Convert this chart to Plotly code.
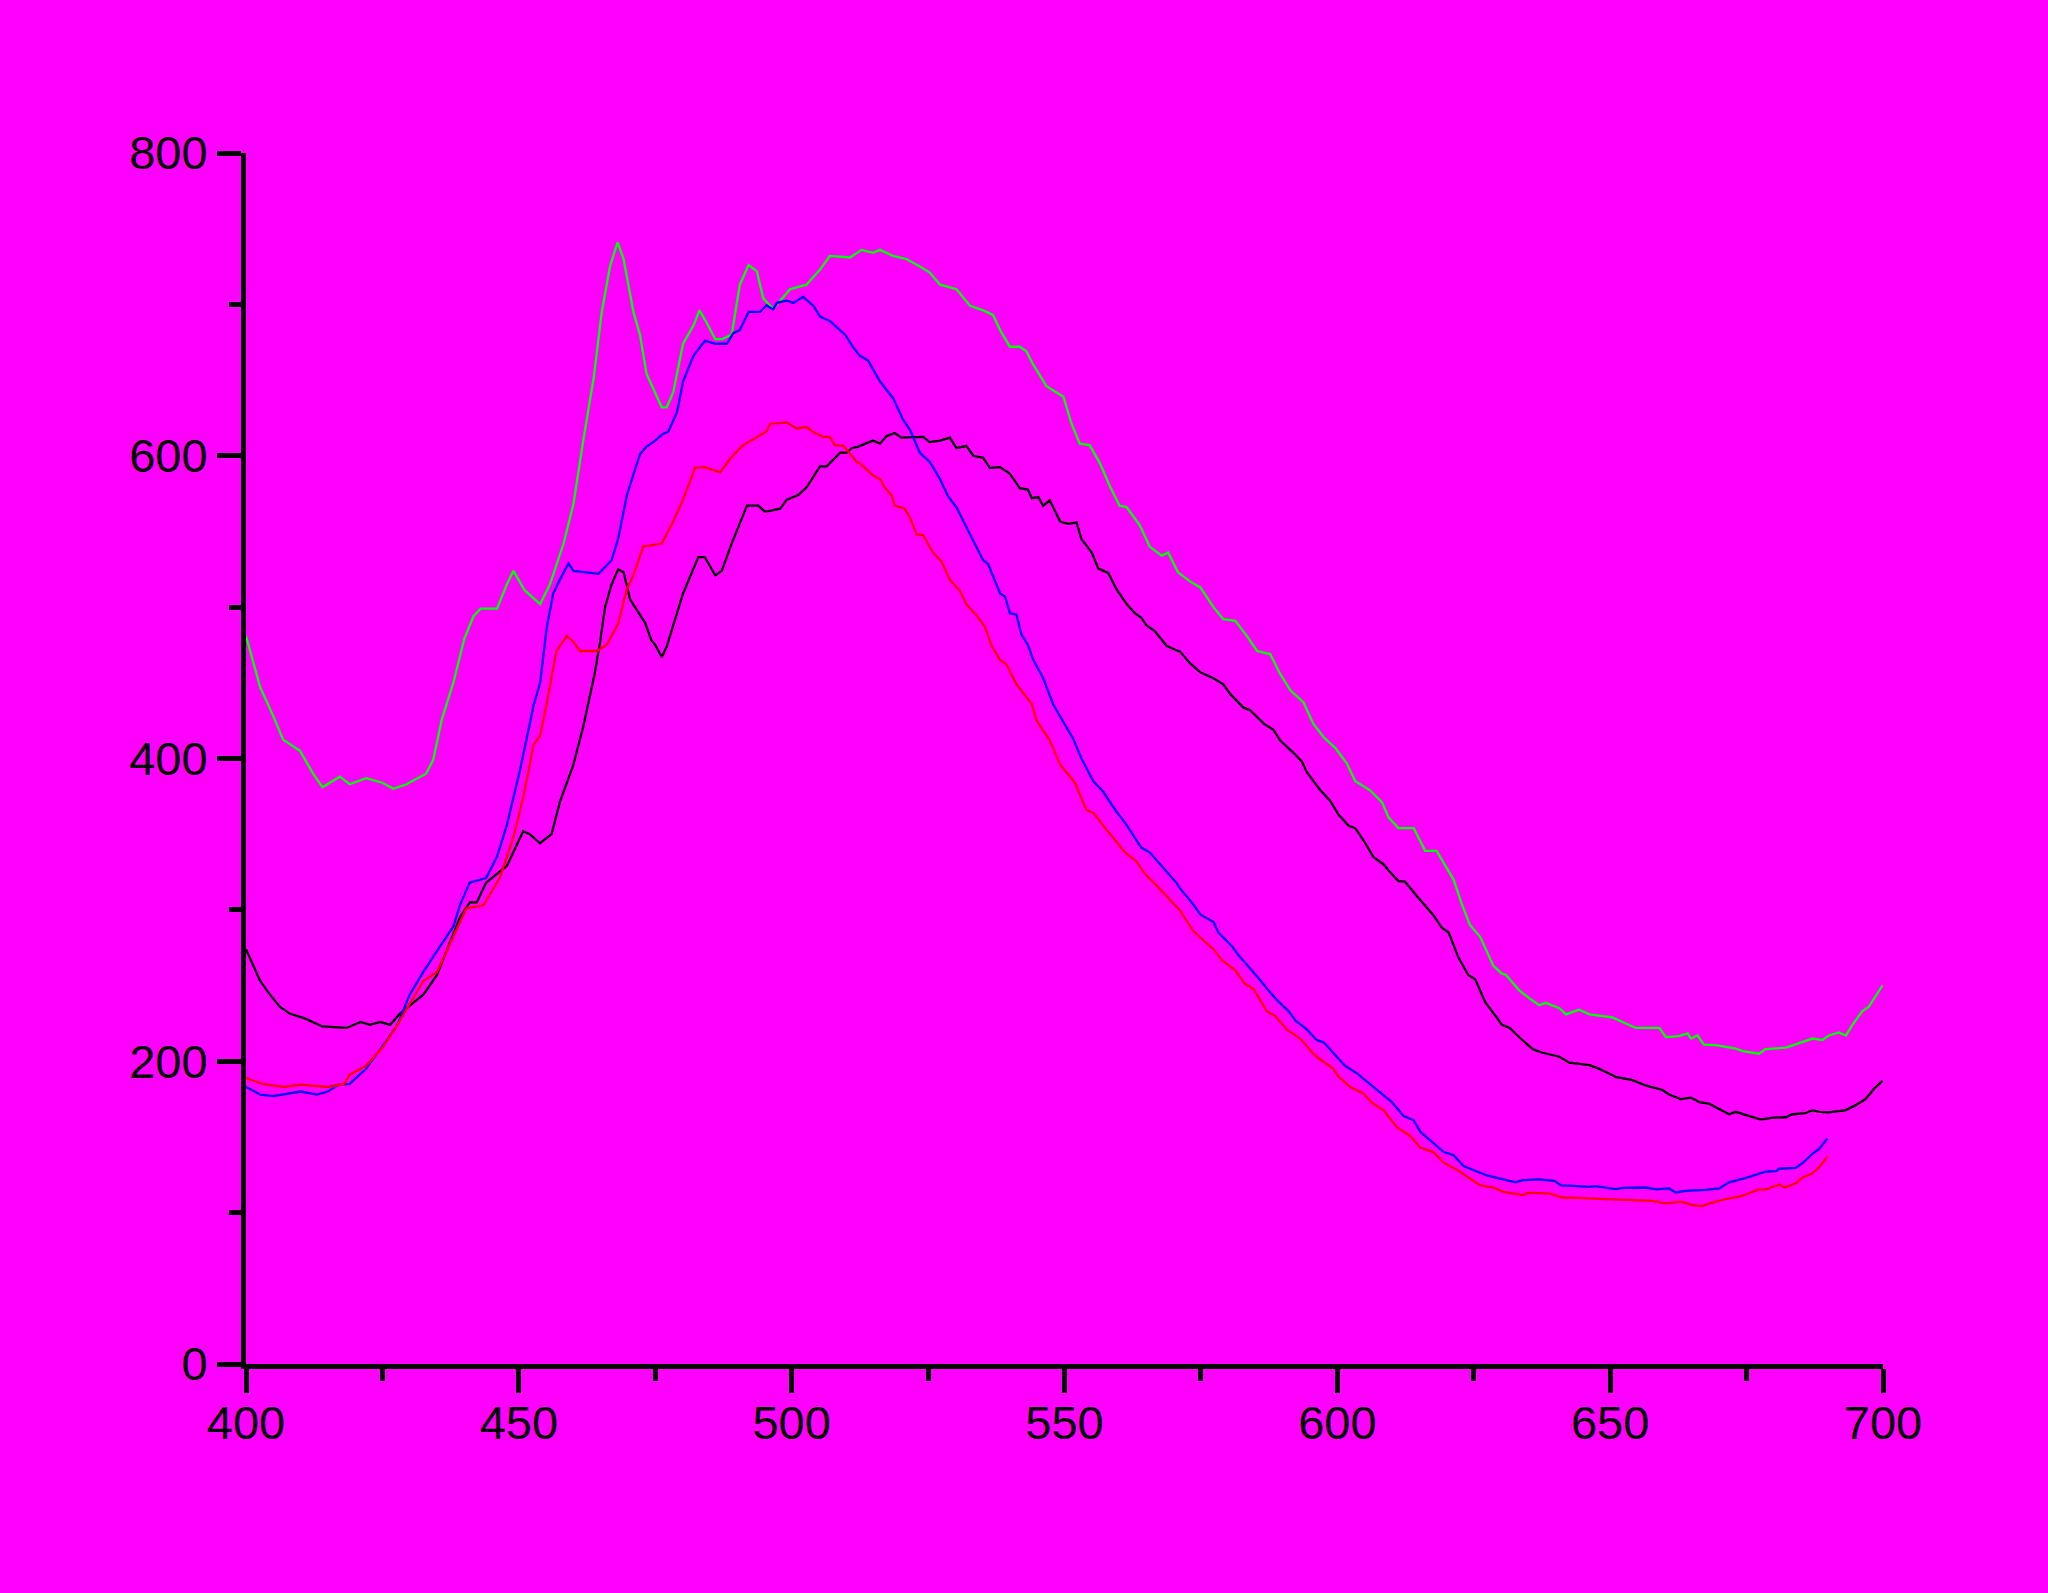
import plotly.graph_objects as go

# ---- Data ----
green_x = [400, 402.6, 405, 406.8, 409.9, 412.3, 414, 417.2, 419, 422, 425, 427, 429.4, 433, 434.3, 435.9, 438, 440,
           441.7, 443, 446, 447.8, 449, 451.1, 453.9, 455.7, 458.2, 460, 461.8, 463.7, 465.2, 466.7, 468.1, 469.2,
           471, 472.2, 473.4, 475, 476.2, 477.1, 478.3, 480.1, 482, 483.1, 484.4, 486, 487.2, 489, 490.5, 492.1,
           493.6, 494.8, 496.6, 499.7, 502.7, 505.2, 507, 510.7, 512.8, 514.9, 516.2, 518.6, 521, 523.5, 525.3,
           527.2, 530.2, 532.7, 535.1, 536.9, 538.2, 540, 541.8, 543, 544.3, 546.7, 549.8, 551.3, 552.8, 554.6,
           556.5, 558.3, 560.1, 561.4, 563.8, 565.6, 567.8, 569, 570.8, 573, 574.9, 577.3, 579.1, 581.3, 583.4,
           585.3, 587.7, 589.5, 591.4, 593.8, 595.6, 597.5, 599.6, 601.7, 603.3, 606, 608.2, 609.4, 611.2, 614,
           616.1, 618.2, 621.3, 622.8, 624.3, 626.2, 628.6, 630.1, 630.9, 633.3, 635.2, 637, 638.2, 640.7, 641.9,
           644.3, 646.2, 650.4, 652.3, 654.7, 659, 660.2, 662.6, 664.2, 664.8, 666, 667.2, 669.4, 673, 674.3,
           677.3, 678.5, 682.2, 684.6, 687.1, 688.9, 690.1, 691.9, 693.2, 694.4, 696.2, 697.4, 698.7, 699.9]
green_y = [481, 447, 428, 412.5, 405, 390, 381, 388, 383, 387, 384, 380, 383, 390, 399, 426, 450, 479,
           494, 499, 499, 515, 524, 511, 502, 515, 542, 568, 610, 651, 695, 725, 741, 730,
           695, 680, 654, 642, 632, 632, 642, 674, 686, 696, 688, 677, 677, 680, 713, 726,
           722, 704, 697, 710, 713, 723, 732, 731, 736, 734, 736, 732, 730, 725, 721,
           713, 710, 699, 696, 693, 683, 672, 672, 669, 660, 646, 639, 621, 608, 607,
           595, 580, 567, 566, 554, 540, 534, 536, 523, 517, 513, 500, 492, 491, 481,
           471, 469, 456, 445, 437, 423, 414, 407, 397, 385, 379, 371, 361, 354, 354,
           339, 339, 320, 304, 290, 282, 263, 258, 257, 247, 241.5, 237, 238.6, 235, 231,
           234, 231, 229, 226, 222, 222, 216, 216.6, 218.4, 215, 217, 211, 210.6, 208.4, 206.7,
           205, 208, 209, 212, 215, 214, 217, 219, 217, 224, 233, 236, 243, 250]

blue_x = [400, 402.6, 405, 410, 413, 415, 417, 419, 422, 425, 427.6, 430, 432.5, 435.6, 438, 439.2, 441, 444,
          446, 447.8, 450.2, 452.7, 453.9, 455.1, 456.3, 457.5, 459.1, 460, 463, 464.6, 467, 468.2, 469.8, 472.2,
          473.4, 475, 476.2, 477.4, 479, 480.1, 482, 484.1, 486, 488.1, 489.3, 490.5, 492.1, 494.2, 495.4, 496.6,
          497.3, 499.1, 500.3, 502.1, 504, 505.2, 507, 508.2, 509.8, 511.3, 512.5, 514, 516.2, 518.6, 520.4,
          521.7, 523.5, 525.3, 527.2, 528.7, 530.2, 532.7, 535.1, 536, 538.2, 539.1, 540, 541.2, 542.1, 543.3,
          544.3, 546.1, 547.9, 549.8, 551.6, 553.1, 555.3, 557.1, 559.5, 561.4, 564.1, 565.6, 567.8, 570.5,
          571.2, 573.3, 574.9, 577.3, 578.2, 580.7, 581.9, 583.4, 585.3, 587.1, 588.9, 591.1, 592.3, 594.4,
          596.2, 597.5, 599.3, 601.4, 603.6, 606.3, 607.9, 610, 612.1, 614, 615.2, 617.6, 619.5, 621.3, 623.1,
          625, 627.4, 629.8, 632.7, 634, 637, 639.8, 641, 643.1, 646.2, 647.4, 651, 652.3, 656.5, 658.4, 660.8,
          662, 663.9, 667.5, 670, 671.8, 673.6, 674.9, 678.5, 680.4, 681, 684, 685.2, 687.1, 688.3, 689.8]
blue_y = [183, 178, 177, 180, 178, 180, 184.5, 185, 195, 210, 223, 244, 259, 276, 289, 303, 318, 321,
          335, 356, 392, 435, 450, 486, 509, 518, 529, 524, 523, 522, 531, 545, 574, 601,
          606, 610, 614, 616, 629, 649, 666, 676, 674, 674, 681, 683, 695, 695, 699.5, 696.5,
          701, 702.5, 701, 705, 699, 692, 689, 685, 680, 671.5, 666, 663, 649, 638, 624,
          617, 602, 596, 584.5, 573, 566, 548, 531, 528.5, 509, 507, 496, 495, 482, 475,
          465, 453, 436, 424, 413, 400, 385, 378, 365, 356, 341, 338, 329, 318,
          314, 305, 297, 292, 285, 276, 270, 264, 256, 248, 240.5, 233, 227, 221,
          214, 212.5, 205, 197, 192, 184, 179, 173, 164, 161, 153.5, 146, 140, 138, 131,
          128, 124.6, 122.5, 120, 121.5, 122, 121, 118, 117.7, 117, 117.5, 115.5, 116.4, 116.6, 115.3, 116,
          113.3, 114.4, 115, 116, 120, 121.5, 123, 127, 127.4, 129, 129.6, 132.5, 139, 142, 149]

red_x = [400, 403, 407, 410, 415, 418, 419, 422, 425, 427.6, 430, 432.5, 435, 438, 440.4, 443.5, 446.5, 449,
         450.8, 452.7, 453.9, 455.1, 456.9, 458.8, 460, 461.2, 464.3, 466.1, 468.2, 469.8, 471, 472.8, 476.2,
         478.3, 480.1, 482.3, 484.1, 486.9, 488.7, 491.1, 493, 495.4, 496, 499.1, 500.9, 502.7, 504, 505.8, 507,
         507.9, 509.5, 511.9, 512.5, 514.9, 516.2, 517.1, 518.3, 518.9, 520.7, 521.7, 522.9, 524.1, 525.9, 527.5,
         529, 530.8, 532, 533.9, 535.4, 536.6, 538.2, 539.4, 541.2, 544, 544.9, 547.3, 549.2, 551.9, 554, 555.3,
         557.7, 559.8, 561.1, 563.2, 564.7, 566.9, 568.7, 571.2, 573.6, 575.5, 577.3, 578.8, 581.3, 583.1, 584.6,
         587.1, 588.6, 590.7, 593.2, 595.6, 596.9, 599.3, 600.2, 602.4, 604.8, 606.3, 608.5, 610.9, 613.4, 615.2,
         617.6, 619.5, 621.9, 624.3, 626.2, 628.6, 630.4, 632.1, 634.2, 634.8, 638.8, 641.2, 644.3, 649.2, 654.1,
         657.8, 660.2, 662.9, 665.1, 666.9, 668.1, 671.2, 673.6, 674.9, 677, 678.5, 681, 681.9, 684, 685.2, 687.1,
         688.3, 689.8]
red_y = [189, 185, 183, 184.5, 183, 185, 191, 197, 209, 223, 238, 253, 259, 282, 301, 303, 321, 348,
         374, 409, 415, 436, 471, 481, 477, 471, 471, 475, 489, 512, 521, 540, 542,
         556.5, 571, 592, 592.5, 589, 598, 607, 611, 616, 621, 622, 618, 619, 615.5, 612.5, 612.5,
         607, 606.6, 596, 595, 587, 584.5, 578.6, 574, 567, 565, 559, 548, 547.6, 536, 530,
         518, 511, 502, 494.5, 487, 475, 465, 462, 449, 436, 425, 412, 396, 384, 366, 364,
         353, 344, 338, 332, 324, 316, 309, 299.5, 286, 280, 274, 267, 260, 251, 248,
         233, 230, 221, 215, 205, 201, 195, 190, 183, 178.6, 172.7, 167.6, 156.4, 150.5, 143,
         140, 133, 128.4, 122.5, 118, 116.6, 113.7, 112.7, 111.6, 113, 112.7, 110, 109.8, 108.9, 108.3,
         107.8, 106.1, 107.2, 105, 104.3, 106, 109, 110.5, 112, 115, 115.3, 118.6, 116.6, 119.3, 123, 126,
         130, 137]

black_x = [400, 402.6, 404.4, 406.2, 408, 411, 414, 418.4, 421, 422.7, 424.6, 426.4, 428.2, 430.7, 432.5, 435,
           437.4, 439.2, 441, 442.3, 444, 447.8, 450.8, 452, 453.9, 456, 457.5, 459.1, 460, 461.8, 463.9, 464.9,
           465.8, 467, 468.2, 469.2, 470.4, 473.1, 474.3, 475, 476.2, 477.1, 480.1, 482.9, 484.1, 486, 487.2, 489,
           491.8, 493.9, 495.1, 497.9, 499.1, 501.2, 502.7, 505.2, 506.4, 508.9, 510.1, 511, 512.2, 514.9, 516.2,
           517.4, 518.9, 520.1, 524.1, 525.3, 527.2, 529, 530.2, 532, 533.3, 535.1, 536.3, 538.2, 540, 541.8,
           543.3, 544, 545.2, 546.1, 547.3, 549.2, 550.7, 552.2, 553.1, 555, 556.2, 558, 559.5, 561.4, 562.9,
           564.1, 565, 566.6, 568.7, 570.2, 571.2, 573, 574.9, 577.3, 579.1, 580.4, 582.8, 584, 586.5, 588.3,
           589.5, 592, 593.5, 594.4, 596.9, 598.7, 600.2, 602.1, 603.3, 604.8, 606.6, 608.5, 609.4, 611.2, 612.4,
           614.6, 616.4, 617.6, 619.2, 620.4, 622.2, 624, 625.3, 627.1, 629.2, 630.1, 631.6, 633.3, 635.8, 637.6,
           640.7, 642.5, 646.2, 648, 651, 654.1, 656.5, 659.6, 660.8, 662.9, 664.8, 666.3, 668.1, 671.8, 673,
           675.5, 677.6, 679.8, 682.2, 683.4, 685.6, 687.1, 688.3, 690.1, 693.2, 695, 696.8, 698.4, 699.9]
black_y = [274, 253, 244, 236, 231.5, 228, 223, 222, 226, 224, 226, 224, 231.5, 239, 244, 257,
           278, 295, 305, 305, 318, 329, 352, 350, 344, 350, 371, 387, 396, 421, 456, 477,
           500, 515, 525, 523, 505, 490, 478, 475, 467, 474, 509, 533, 533, 521, 524, 542,
           567, 567, 563, 565, 571, 574, 579, 593, 593, 602, 602, 605, 606, 610, 608,
           613, 615, 612, 612.5, 609, 610, 612, 605, 606.6, 600, 598.6, 592, 592.5, 588, 578.6,
           577.7, 572, 572.7, 567, 570.6, 556.5, 555, 556, 545, 536, 525.5, 522.6, 512, 502, 496,
           493, 488, 484, 474.5, 472, 470.5, 463, 457, 453, 449, 442.5, 433.6, 432, 423, 419,
           412, 403.6, 398, 391, 379, 372, 363, 355.5, 354, 346, 335, 330, 326, 319, 318.6,
           309, 301.5, 296.5, 288, 285, 268.5, 257, 254, 239, 229, 224.3, 222, 216, 208, 205.6,
           203, 199, 197.4, 195, 189.7, 187.5, 184, 181, 178, 175, 176, 173, 172, 165, 166.6,
           164, 161.5, 162.7, 163, 165, 165.5, 167.7, 166.6, 166.2, 167.7, 171, 175, 182, 187]

series = [
    ("green", green_x, green_y, "#00FF00"),
    ("black", black_x, black_y, "#000000"),
    ("blue", blue_x, blue_y, "#0000FF"),
    ("red", red_x, red_y, "#FF0000"),
]

x_ticks = [400, 450, 500, 550, 600, 650, 700]
y_ticks = [0, 200, 400, 600, 800]

BG = "#FF00FF"
FONT = dict(family="Arial, Liberation Sans, sans-serif", size=47, color="black")

fig = go.Figure()
for name, xs, ys, col in series:
    fig.add_trace(go.Scatter(x=xs, y=ys, mode="lines", name=name,
                             line=dict(color=col, width=2.3), showlegend=False))

axis_common = dict(
    showline=True, linecolor="black", linewidth=5,
    ticks="outside", ticklen=24, tickwidth=5, tickcolor="black",
    showgrid=False, zeroline=False, mirror=False,
    tickfont=FONT,
)
fig.update_xaxes(range=[400, 700], tickmode="array", tickvals=x_ticks, ticklabelstandoff=-10,
                 minor=dict(ticks="outside", ticklen=12, tickwidth=5, tickcolor="black", dtick=25, tick0=400,
                            showgrid=False),
                 **axis_common)
fig.update_yaxes(range=[0, 800], tickmode="array", tickvals=y_ticks,
                 minor=dict(ticks="outside", ticklen=12, tickwidth=5, tickcolor="black", dtick=100, tick0=0,
                            showgrid=False),
                 **axis_common)

fig.update_layout(
    width=2048, height=1593,
    margin=dict(l=246, r=165, t=153, b=229, pad=0),
    paper_bgcolor=BG, plot_bgcolor=BG,
    showlegend=False,
)

fig.write_html("out.html",
               config={"displayModeBar": False},
               post_script="document.body.style.margin='0';document.body.style.padding='0';"
                           "document.body.style.background='" + BG + "';")
